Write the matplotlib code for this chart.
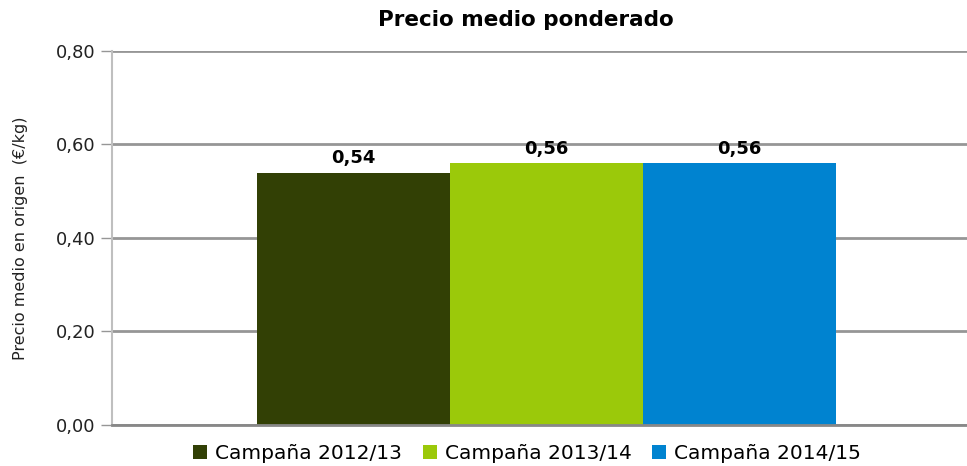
import numpy as np
import matplotlib.pyplot as plt

# Datos
campanas = ['Campaña 2012/13', 'Campaña 2013/14', 'Campaña 2014/15']
precios = [0.54, 0.56, 0.56]
colores = ['#324005', '#9BC90A', '#0083D0']
yticks = [0.0, 0.2, 0.4, 0.6, 0.8]

plt.rcParams['font.family'] = ['DejaVu Sans']

fig = plt.figure(figsize=(9.67, 4.66), dpi=100)
ax = fig.add_axes([0.1158, 0.088, 0.8987, 0.8026])

ancho = 193 / 869
x0 = 0.5 - ancho
for i, (lab, val, col) in enumerate(zip(campanas, precios, colores)):
    xi = x0 + i * ancho
    ax.bar(xi, val, width=ancho, color=col, label=lab, zorder=3)
    ax.text(xi, val + 0.012, f'{val:.2f}'.replace('.', ','), ha='center', va='bottom',
            fontsize=13, fontweight='bold', zorder=4)

ax.set_xlim(0, 1)
ax.set_ylim(0, 0.8)
ax.set_yticks(yticks)
ax.set_yticklabels([f'{v:.2f}'.replace('.', ',') for v in yticks], fontsize=13, color='#222222')
ax.set_xticks([])
ax.yaxis.grid(True, color='#969696', linewidth=2, zorder=0)
ax.tick_params(axis='y', length=8, width=1, color='#969696', pad=4)

for s in ['top', 'right']:
    ax.spines[s].set_visible(False)
ax.spines['left'].set_color('#BFBFBF')
ax.spines['left'].set_linewidth(1.5)
ax.spines['bottom'].set_color('#888888')
ax.spines['bottom'].set_linewidth(2)
ax.spines['bottom'].set_zorder(5)

ax.set_ylabel('Precio medio en origen  (€/kg)', fontsize=11.5, color='#222222', labelpad=20)

fig.suptitle('Precio medio ponderado', x=0.5443, y=0.978, fontsize=15.5, fontweight='bold')

fig.legend(loc='center', bbox_to_anchor=(0.545, 0.027), ncol=3, frameon=False,
           fontsize=14.5, handlelength=0.7, handleheight=0.7, handletextpad=0.4,
           columnspacing=1.0)

fig.savefig('out.png', dpi=100)
